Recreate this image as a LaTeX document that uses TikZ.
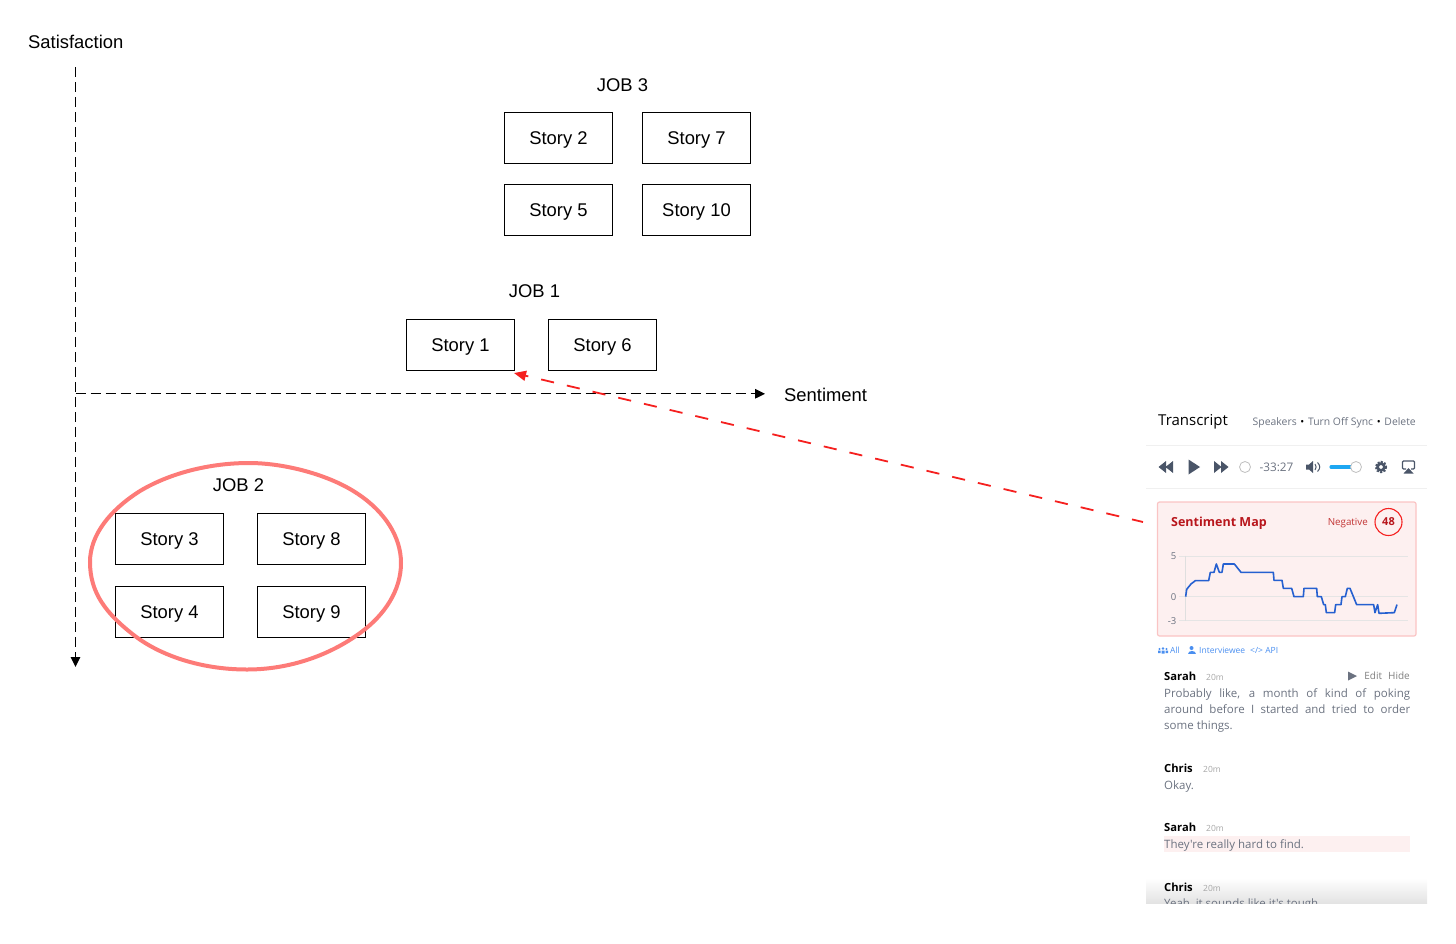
\documentclass[tikz,border=0pt]{standalone}
\usepackage{fontspec}
\setmainfont{Liberation Sans}
\newfontfamily\panelfont{Open Sans}
\usetikzlibrary{arrows.meta}
\definecolor{ringred}{HTML}{FD7B78}
\definecolor{linkred}{HTML}{F5201F}
\definecolor{mapred}{HTML}{B8161C}
\definecolor{mapfill}{HTML}{FDF0F0}
\definecolor{mapline}{HTML}{FAC4C4}
\definecolor{chartblue}{HTML}{2560D0}
\definecolor{slate}{HTML}{4A5568}
\definecolor{greytext}{HTML}{6B7280}
\definecolor{linkblue}{HTML}{4A8FF0}
\definecolor{sliderblue}{HTML}{1DA7F2}
\newcommand{\bodyfont}{\panelfont\fontsize{11.5}{16.3}\selectfont}
\begin{document}
\begin{tikzpicture}[x=1pt,y=-1pt,
	storybox/.style={draw,line width=1pt,minimum width=108pt,minimum height=51pt,inner sep=0pt,text height=13pt,text depth=0pt,font=\fontsize{18.4}{20}\selectfont},
	plainlabel/.style={inner sep=0pt,text height=13pt,text depth=0pt,font=\fontsize{18.4}{20}\selectfont},
	axisline/.style={line width=1.3pt,dash pattern=on 10pt off 5pt,-{Triangle[length=10pt,width=9.5pt]}},
	speaker/.style={anchor=west,inner sep=0pt,text=black,font=\panelfont\bfseries\fontsize{11.2}{13}\selectfont},
	stamp/.style={anchor=west,inner sep=0pt,text=gray!70,font=\panelfont\fontsize{8.5}{10}\selectfont},
	speech/.style={anchor=west,inner sep=0pt,text height=8pt,text depth=0pt,text=greytext,font=\bodyfont},
	legendlabel/.style={anchor=west,inner sep=0pt,text=linkblue,font=\panelfont\fontsize{8.5}{10}\selectfont},
	ticklabel/.style={inner sep=0pt,text=greytext,font=\panelfont\fontsize{9.5}{11}\selectfont},
	]
	\useasboundingbox (0,0) rectangle (1456,943);

	% axes
	\coordinate (axistop) at (75.5,67);
	\coordinate (axisbottom) at (75.5,667);
	\coordinate (axisleft) at (75.5,393.8);
	\coordinate (axisright) at (765,393.8);
	\draw[axisline] (axistop) -- (axisbottom);
	\draw[axisline] (axisleft) -- (axisright);
	\node[plainlabel,anchor=west] (satisfaction) at (28,41.5) {Satisfaction};
	\node[plainlabel,anchor=west] (sentiment) at (784,395) {Sentiment};

	% job 3
	\node[plainlabel] (job3) at (622.5,84.5) {JOB 3};
	\node[storybox] (story2) at (558.5,137.5) {Story 2};
	\node[storybox] (story7) at (696.5,137.5) {Story 7};
	\node[storybox] (story5) at (558.5,210) {Story 5};
	\node[storybox] (story10) at (696.5,210) {Story 10};

	% job 1
	\node[plainlabel] (job1) at (534.5,291) {JOB 1};
	\node[storybox] (story1) at (460.5,345) {Story 1};
	\node[storybox] (story6) at (602.5,345) {Story 6};

	% job 2
	\node[plainlabel] (job2) at (238.5,485) {JOB 2};
	\node[storybox] (story3) at (169.5,539) {Story 3};
	\node[storybox] (story8) at (311.5,539) {Story 8};
	\node[storybox] (story4) at (169.5,612) {Story 4};
	\node[storybox] (story9) at (311.5,612) {Story 9};
	\draw[ringred,line width=4pt] (249,463) .. controls (285,463) and (330,475) .. (358,494) .. controls (385,512) and (401,537) .. (401,563) .. controls (401,590) and (385,615) .. (360,633) .. controls (330,655) and (290,669.5) .. (247,669.5) .. controls (200,669.5) and (160,655) .. (135,636) .. controls (105,613) and (90,592) .. (90,562) .. controls (90,535) and (110,510) .. (140,491) .. controls (170,473) and (210,463) .. (249,463) -- cycle;

	% transcript header
	\draw[gray!12,line width=1pt] (1146,445) -- (1427,445);
	\draw[gray!12,line width=1pt] (1146,488) -- (1427,488);
	\node[anchor=west,inner sep=0pt,text height=10pt,text depth=0pt,font=\panelfont\fontsize{15}{17}\selectfont] (transcript) at (1158,420) {Transcript};
	\node[anchor=east,inner sep=0pt,text height=7pt,text depth=0pt,text=greytext,font=\panelfont\fontsize{10.4}{12}\selectfont] (actions) at (1416,422) {Speakers\hspace{1pt} {\color{black}•}\hspace{1pt} Turn Off Sync\hspace{1pt} {\color{black}•}\hspace{1pt} Delete};

	% player
	\fill[slate] (1166,461) -- (1158.5,467) -- (1166,473) -- cycle (1173,461) -- (1165.5,467) -- (1173,473) -- cycle;
	\fill[slate] (1188.5,459.5) -- (1200,467) -- (1188.5,474.5) -- cycle;
	\fill[slate] (1214,461) -- (1221.5,467) -- (1214,473) -- cycle (1221,461) -- (1228.5,467) -- (1221,473) -- cycle;
	\draw[gray!50,fill=white,line width=.8pt] (1245,467) circle (5.5);
	\node[inner sep=0pt,text=greytext,font=\panelfont\fontsize{11.8}{13}\selectfont] (clock) at (1276.5,467) {-33:27};
	\fill[slate] (1306,464.5) -- (1309,464.5) -- (1313,461) -- (1313,473) -- (1309,469.5) -- (1306,469.5) -- cycle;
	\draw[slate,line width=1pt] (1315,464) .. controls (1316.5,466) and (1316.5,468) .. (1315,470);
	\draw[slate,line width=1pt] (1317.5,462.5) .. controls (1320.5,465.5) and (1320.5,468.5) .. (1317.5,471.5);
	\draw[sliderblue,line width=3.2pt,line cap=round] (1331,467) -- (1352,467);
	\draw[gray!50,fill=white,line width=.8pt] (1356,467) circle (5.5);
	\draw[slate,line width=2pt,dash pattern=on 2pt off 1.4pt] (1381,467) circle (5.2);
	\draw[slate,line width=2.6pt] (1381,467) circle (3.4);
	\draw[slate,line width=1.2pt,rounded corners=1pt] (1406,469) -- (1402.5,469) -- (1402.5,461) -- (1414.5,461) -- (1414.5,469) -- (1411,469);
	\fill[slate] (1408.5,468) -- (1403.5,473.5) -- (1413.5,473.5) -- cycle;

	% sentiment map
	\draw[mapline,fill=mapfill,line width=1.2pt,rounded corners=2pt] (1157.5,502) rectangle (1416,636);
	\node[anchor=west,inner sep=0pt,text height=9pt,text depth=0pt,text=mapred,font=\panelfont\bfseries\fontsize{12.5}{14}\selectfont] (maptitle) at (1171,522) {Sentiment Map};
	\node[anchor=east,inner sep=0pt,text height=7pt,text depth=0pt,text=red!70!black!80,font=\panelfont\fontsize{9.8}{12}\selectfont] (negative) at (1368,522) {Negative};
	\node[draw=linkred,circle,line width=1.1pt,minimum size=27pt,inner sep=0pt,text=mapred,font=\panelfont\bfseries\fontsize{11}{13}\selectfont] (score) at (1388.5,522) {48};
	\node[ticklabel] (tick5) at (1173.5,556.5) {5};
	\node[ticklabel] (tick0) at (1173.5,597) {0};
	\node[ticklabel] (tickm3) at (1172,621.5) {-3};
	\begin{scope}[shift={(1146,400)},x=.3333pt,y=-.3333pt]
		\draw[gray!20,line width=.7pt] (100,468) -- (785,468);
		\draw[gray!20,line width=.7pt] (100,590) -- (785,590);
		\draw[gray!20,line width=.7pt] (100,662) -- (785,662);
		\draw[gray!25,line width=.7pt] (119,468) -- (119,662);
		\draw[chartblue,line width=1.6pt,line join=round] (119,590) -- (122,568) -- (135,552) -- (148,542) -- (188,542) -- (193,517) -- (204,517) -- (211,492) -- (220,517) -- (228,517) -- (232,492) -- (265,492) -- (285,517) -- (382,517) -- (384,541) -- (408,541) -- (412,565) -- (437,565) -- (444,590) -- (472,590) -- (474,565) -- (512,565) -- (514,590) -- (526,590) -- (533,614) -- (538,614) -- (541,638) -- (566,638) -- (569,614) -- (585,614) -- (588,590) -- (598,590) -- (604,565) -- (612,565) -- (632,614) -- (683,614) -- (687,638) -- (695,614) -- (699,640) -- (745,638) -- (753,614);
	\end{scope}

	% filter row
	\fill[linkblue] (1159.5,649) circle (1.2) (1163,648.5) circle (1.3) (1166.5,649) circle (1.2);
	\fill[linkblue] (1158,650.5) rectangle (1160.5,653) (1161.5,650.5) rectangle (1164.5,653.5) (1165.5,650.5) rectangle (1168,653);
	\node[legendlabel] (filterall) at (1170,650) {All};
	\fill[linkblue] (1191.5,648) circle (2);
	\fill[linkblue] (1187.5,653.5) .. controls (1187.5,649.5) and (1195.5,649.5) .. (1195.5,653.5) -- cycle;
	\node[legendlabel] (filterperson) at (1199,650) {Interviewee};
	\node[legendlabel] (filterapi) at (1250,650) {</> API};

	% conversation
	\node[speaker] (sarah1) at (1164,676) {Sarah};
	\node[stamp] (time1) at (1206,677) {20m};
	\fill[greytext] (1348,671.5) -- (1357,676) -- (1348,680.5) -- cycle;
	\node[anchor=east,inner sep=0pt,text=gray,font=\panelfont\fontsize{10}{11}\selectfont] (edithide) at (1410,676) {Edit\hspace{6pt}Hide};
	\node[anchor=north west,inner sep=0pt,text width=246pt,align=justify,text=greytext,font=\bodyfont] (speech1) at (1164,688) {Probably like, a month of kind of poking\linebreak around before I started and tried to order\linebreak some things.};
	\node[speaker] (chris1) at (1164,768) {Chris};
	\node[stamp] (time2) at (1203,769) {20m};
	\node[speech] (okay) at (1164,785) {Okay.};
	\node[speaker] (sarah2) at (1164,827) {Sarah};
	\node[stamp] (time3) at (1206,828) {20m};
	\fill[mapfill] (1164,836) rectangle (1410,852);
	\node[speech] (hard) at (1164,844) {They're really hard to find.};
	\shade[top color=white,bottom color=gray!22] (1146,878) rectangle (1427,903);
	\node[speaker] (chris2) at (1164,887) {Chris};
	\node[stamp] (time4) at (1203,888) {20m};
	\begin{scope}
		\clip (1146,890) rectangle (1427,903);
		\node[speech] (tough) at (1164,903) {Yeah, it sounds like it's tough.};
	\end{scope}

	% link from map to story
	\coordinate (mapend) at (1143,522);
	\draw[linkred,line width=1.8pt,dash pattern=on 13.2pt off 13.2pt,dash phase=1.9pt,-{Triangle[length=12pt,width=10pt]}] (mapend) -- ([shift={(-1,2)}]story1.south east);
\end{tikzpicture}
\end{document}
